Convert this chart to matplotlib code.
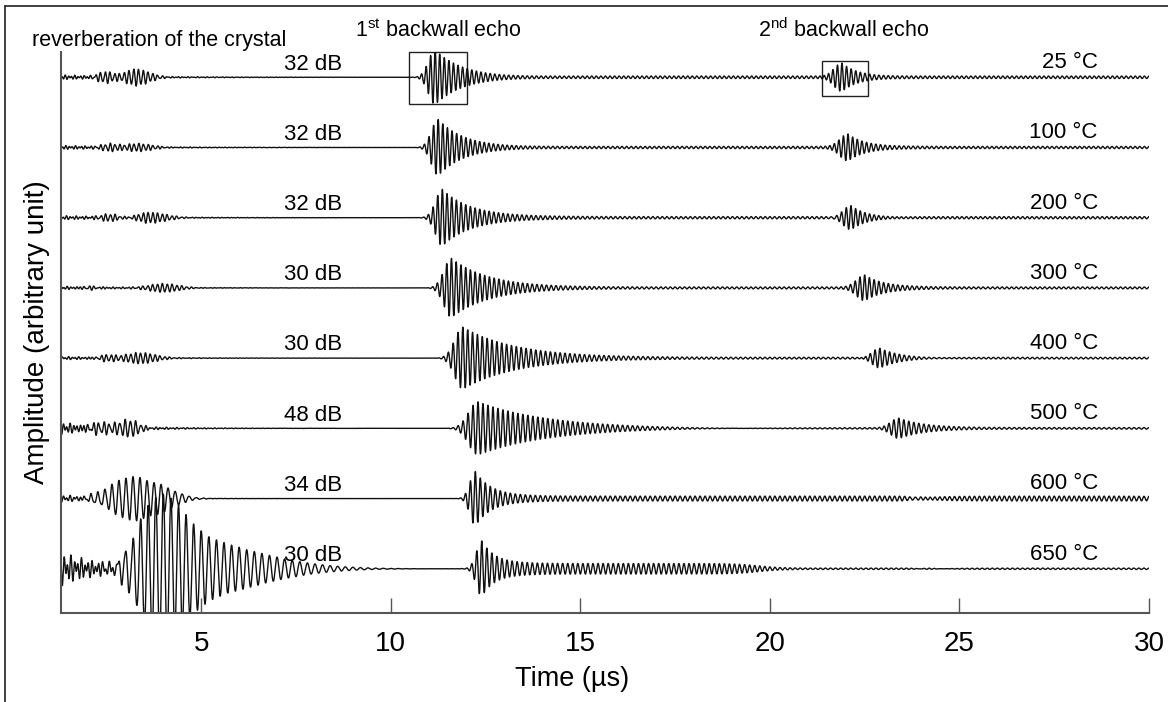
import numpy as np
import matplotlib
matplotlib.use('Agg')
import matplotlib.pyplot as plt
from matplotlib.patches import Rectangle
from matplotlib.lines import Line2D

plt.rcParams['font.family'] = ['Liberation Sans', 'DejaVu Sans']
plt.rcParams['mathtext.default'] = 'regular'

# one A-scan per temperature, top to bottom
temps = ['25 °C', '100 °C', '200 °C', '300 °C', '400 °C', '500 °C', '600 °C', '650 °C']
gains = ['32 dB', '32 dB', '32 dB', '30 dB', '30 dB', '48 dB', '34 dB', '30 dB']

# early ring-down right after the excitation pulse
early_amp = [0.035, 0.03, 0.03, 0.025, 0.025, 0.09, 0.05, 0.25]
early_tau = [2.5, 2.5, 2.5, 2.5, 2.5, 1.6, 1.5, 1.2]

# crystal reverberation, two bursts per trace (time in us, amplitude in trace spacings)
rev1_time = [2.47, 2.6, 2.6, 2.05, 2.5, 2.3, 3.2, 3.8]
rev1_amp = [0.075, 0.045, 0.05, 0.03, 0.045, 0.09, 0.31, 0.7]
rev1_rise = [0.3, 0.3, 0.3, 0.25, 0.3, 0.4, 0.8, 0.7]
rev1_decay = [0.3, 0.3, 0.3, 0.25, 0.3, 0.4, 0.65, 0.9]
rev2_time = [3.26, 3.3, 3.6, 4.0, 3.4, 3.1, 4.0, 4.3]
rev2_amp = [0.11, 0.055, 0.075, 0.06, 0.075, 0.12, 0.12, 0.45]
rev2_rise = [0.35, 0.35, 0.4, 0.5, 0.5, 0.4, 0.4, 0.9]
rev2_decay = [0.5, 0.6, 0.6, 0.6, 0.6, 0.35, 0.6, 2.7]
rev_freq = [8.0, 8.0, 8.0, 7.8, 7.8, 7.2, 5.4, 5.0]

# 1st backwall echo
echo1_time = [11.17, 11.25, 11.36, 11.6, 11.9, 12.3, 12.23, 12.4]
echo1_amp = [0.39, 0.40, 0.40, 0.42, 0.44, 0.38, 0.38, 0.38]
echo1_rise = [0.25, 0.25, 0.25, 0.28, 0.3, 0.35, 0.2, 0.2]
echo1_tau = [0.75, 0.7, 0.75, 1.0, 1.4, 2.0, 0.45, 0.4]

# low level ringing that follows the echo
floor_amp = [0.018, 0.016, 0.016, 0.014, 0.012, 0.012, 0.035, 0.075]
floor_end = [30.5, 30.5, 30.5, 30.5, 30.5, 30.5, 30.5, 19.7]

# 2nd backwall echo
echo2_time = [21.9, 22.06, 22.14, 22.5, 22.9, 23.4, 24.0, 24.2]
echo2_amp = [0.2, 0.18, 0.18, 0.17, 0.15, 0.14, 0.04, 0.02]
echo2_tau = [0.45, 0.45, 0.45, 0.5, 0.6, 0.7, 0.5, 0.5]

echo_freq = [8.3, 8.2, 8.1, 8.0, 7.8, 7.6, 7.6, 7.5]


def envelope(t, t0, rise, decay):
    dt = t - t0
    return np.where(dt < 0, np.exp(-(dt / rise) ** 2), np.exp(-(dt / decay) ** 2))


def eburst(t, t0, amp, rise, tau, f):
    dt = t - t0
    env = np.where(dt < 0, np.exp(-(dt / rise) ** 2), np.exp(-np.clip(dt, 0, None) / tau))
    return amp * env * np.cos(2 * np.pi * f * dt)


def step(x, w=0.3):
    return 1.0 / (1.0 + np.exp(-x / w))


t = np.arange(1.3, 30.0005, 0.004)

fig = plt.figure(figsize=(11.68, 7.02), dpi=100)
ax = fig.add_axes([61 / 1168, 1 - 613 / 702, (1149 - 61) / 1168, (613 - 52) / 702])

for i in range(len(temps)):
    f = echo_freq[i]
    y = early_amp[i] * np.exp(-(t - 1.3) / early_tau[i]) * (
        0.6 * np.cos(2 * np.pi * 1.45 * f * t) + 0.4 * np.cos(2 * np.pi * 0.93 * f * t + 1.0))
    # both reverberation bursts share one carrier so they add up coherently
    rev_env = (rev1_amp[i] * envelope(t, rev1_time[i], rev1_rise[i], rev1_decay[i])
               + rev2_amp[i] * envelope(t, rev2_time[i], rev2_rise[i], rev2_decay[i]))
    y += rev_env * np.cos(2 * np.pi * rev_freq[i] * (t - rev1_time[i]))
    y += eburst(t, echo1_time[i], echo1_amp[i], echo1_rise[i], echo1_tau[i], f)
    y += floor_amp[i] * step(t - echo1_time[i] - 0.4) * step(floor_end[i] - t) * np.cos(2 * np.pi * f * t)
    y += 0.01 * step(t - floor_end[i]) * np.cos(2 * np.pi * f * t)
    y += eburst(t, echo2_time[i], echo2_amp[i], 0.3, echo2_tau[i], f)
    ax.plot(t, y - i, color='#111111', lw=1.0)
    ax.text(7.95, -i + 0.11, gains[i], ha='center', va='baseline', fontsize=16)
    ax.text(28.65, -i + 0.13, temps[i], ha='right', va='baseline', fontsize=16)

# boxes around the echoes of the 25 °C trace
ax.add_patch(Rectangle((echo1_time[0] - 0.68, -0.384), 1.52, 0.74, fill=False,
                       lw=1.0, ec='#222222', clip_on=False))
ax.add_patch(Rectangle((echo2_time[0] - 0.52, -0.27), 1.21, 0.5, fill=False,
                       lw=1.0, ec='#222222', clip_on=False))

ax.text(0.54, 0.44, 'reverberation of the crystal', fontsize=15.5, va='baseline', clip_on=False)
ax.text(9.06, 0.58, '1$^{st}$ backwall echo', fontsize=15.5, va='baseline', clip_on=False)
ax.text(19.69, 0.57, '2$^{nd}$ backwall echo', fontsize=15.5, va='baseline', clip_on=False)

ax.set_xlim(1.3, 30)
ax.set_ylim(-7.63, 0.36)
ax.set_yticks([])
ax.set_xticks([5, 10, 15, 20, 25, 30])
ax.tick_params(axis='x', direction='in', length=11, width=1, color='#555555',
               labelsize=20, pad=13)
for side in ['top', 'right']:
    ax.spines[side].set_visible(False)
for side in ['left', 'bottom']:
    ax.spines[side].set_color('#555555')
    ax.spines[side].set_linewidth(1.5)
ax.set_xlabel('Time (µs)', fontsize=19.5)
ax.xaxis.set_label_coords((572 - 61) / 1088, (613 - 666) / 561)
ax.set_ylabel('Amplitude (arbitrary unit)', fontsize=20, labelpad=8)

# frame of the whole figure (cropped on right and bottom)
fig.add_artist(Line2D([5 / 1168, 1.0], [1 - 6 / 702, 1 - 6 / 702], color='#333333', lw=1.3))
fig.add_artist(Line2D([5 / 1168, 5 / 1168], [0.0, 1 - 6 / 702], color='#333333', lw=1.3))

fig.savefig('out.png', dpi=100)
